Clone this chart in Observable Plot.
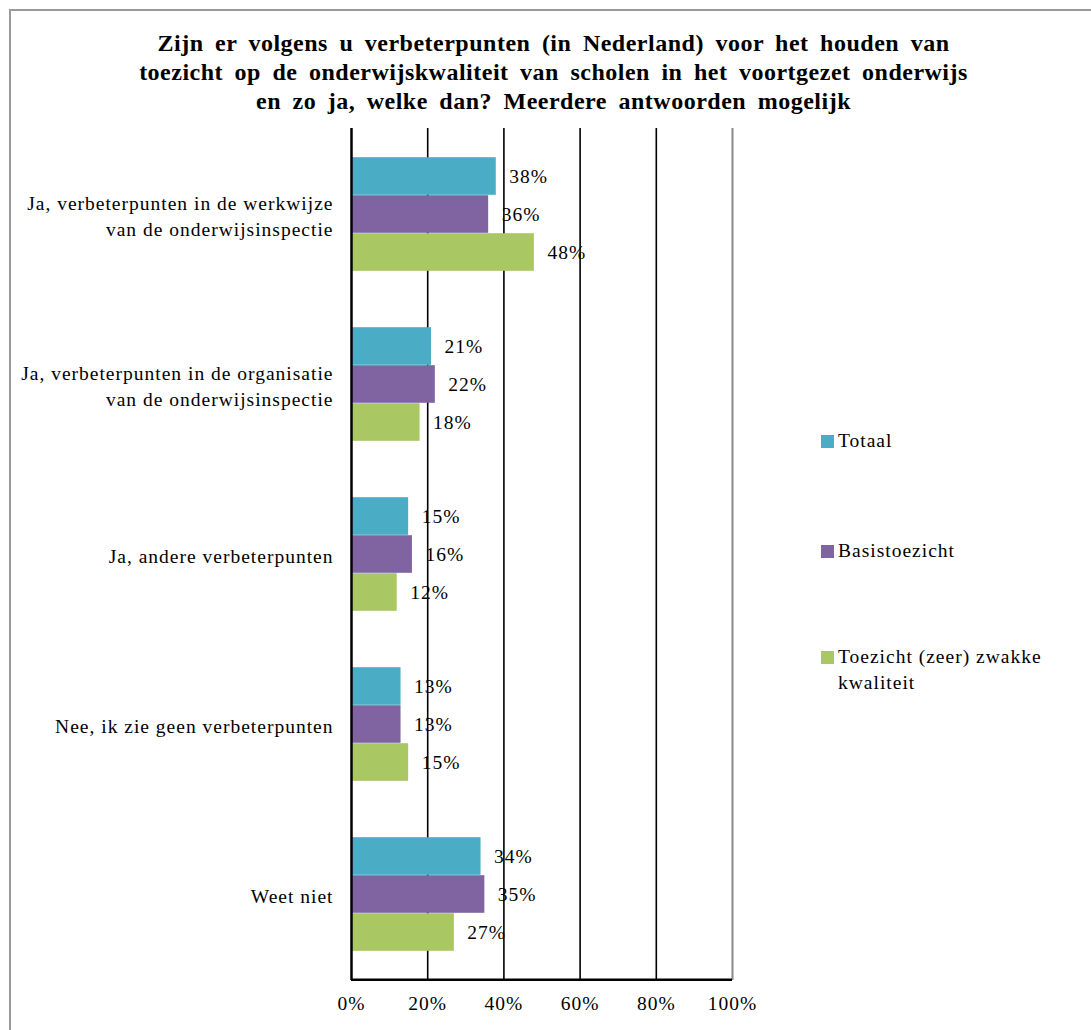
<!DOCTYPE html>
<html>
<head>
<meta charset="utf-8">
<script src="https://cdn.jsdelivr.net/npm/d3@7"></script>
<script src="https://cdn.jsdelivr.net/npm/@observablehq/plot@0.6"></script>
<style>
  html, body { margin: 0; padding: 0; background: #fff; }
  #page { position: relative; width: 1091px; height: 1030px; overflow: hidden; font-family: "Liberation Serif", serif; color: #000; }
  #frame { position: absolute; left: 9px; top: 9px; width: 1200px; height: 1200px; border: 2px solid #9a9a9a; box-sizing: border-box; }
  #title { position: absolute; left: 8px; top: 29px; width: 1091px; text-align: center; font-weight: bold; font-size: 24px; line-height: 29px; letter-spacing: 0.5px; word-spacing: 5px; }
  #chart { position: absolute; left: 0; top: 128px; }
  .leg { position: absolute; left: 821px; font-size: 19.5px; line-height: 26px; letter-spacing: 1px; }
  .leg .sw { position: absolute; left: 0; top: 7px; width: 13px; height: 13px; }
  .leg .tx { position: absolute; left: 17px; top: 0; white-space: nowrap; }
</style>
</head>
<body>
<div id="page">
  <div id="frame"></div>
  <div id="title"></div>
  <div id="chart"></div>
  <div id="legend"></div>
</div>
<script>
const titleLines = [
  "Zijn er volgens u verbeterpunten (in Nederland) voor het houden van",
  "toezicht op de onderwijskwaliteit van scholen in het voortgezet onderwijs",
  "en zo ja, welke dan? Meerdere antwoorden mogelijk"
];
const categories = [
  "Ja, verbeterpunten in de werkwijze van de onderwijsinspectie",
  "Ja, verbeterpunten in de organisatie van de onderwijsinspectie",
  "Ja, andere verbeterpunten",
  "Nee, ik zie geen verbeterpunten",
  "Weet niet"
];
const categoryLabels = [
  "Ja, verbeterpunten in de werkwijze\nvan de onderwijsinspectie",
  "Ja, verbeterpunten in de organisatie\nvan de onderwijsinspectie",
  "Ja, andere verbeterpunten",
  "Nee, ik zie geen verbeterpunten",
  "Weet niet"
];
const seriesNames = ["Totaal", "Basistoezicht", "Toezicht (zeer) zwakke kwaliteit"];
const seriesLegendLabels = ["Totaal", "Basistoezicht", "Toezicht (zeer) zwakke<br>kwaliteit"];
const seriesColors = ["#4bacc6", "#8064a2", "#a9c864"];
const totaal = [38, 21, 15, 13, 34];
const basistoezicht = [36, 22, 16, 13, 35];
const zwakkeKwaliteit = [48, 18, 12, 15, 27];
const xTicks = [0, 20, 40, 60, 80, 100];

document.getElementById("title").innerHTML = titleLines.join("<br>");

const seriesValues = [totaal, basistoezicht, zwakkeKwaliteit];
const rows = [];
seriesNames.forEach((s, si) => categories.forEach((c, ci) => rows.push({category: c, series: s, value: seriesValues[si][ci]})));

const W = 1091, H = 902;
const mL = 351, mR = W - 732, mT = 0, mB = 50;
const band = (H - mT - mB) / categories.length;
const barH = 38;
const pad = (band - 3 * barH) / 2;

const labelOf = new Map(categories.map((c, i) => [c, categoryLabels[i]]));

const marks = [];
marks.push(Plot.ruleX(xTicks.filter(d => d > 0 && d < 100), {stroke: "#000", strokeWidth: 1.6}));
marks.push(Plot.ruleX([100], {stroke: "#8a8a8a", strokeWidth: 2}));
seriesNames.forEach((s, i) => {
  const top = pad + i * barH;
  const bottom = band - top - barH;
  marks.push(Plot.barX(rows.filter(r => r.series === s), {
    x: "value", y: "category", fill: "series", insetTop: top, insetBottom: bottom
  }));
  const dy = top + barH / 2 - band / 2;
  marks.push(Plot.text(rows.filter(r => r.series === s), {
    x: "value", y: "category", text: d => d.value + "%", dx: 13, dy: dy,
    textAnchor: "start", fontSize: 19.5, fill: "#000"
  }));
});
marks.push(Plot.ruleX([0], {stroke: "#000", strokeWidth: 2.5}));
marks.push(Plot.ruleY([categories[categories.length - 1]], {dy: band / 2, stroke: "#000", strokeWidth: 2.5}));
marks.push(Plot.axisX(xTicks, {tickSize: 0, tickPadding: 16, fontSize: 19.5, tickFormat: d => d + "%", label: null}));
marks.push(Plot.axisY({tickSize: 0, tickPadding: 18, fontSize: 19.5, lineHeight: 1.36, tickFormat: d => labelOf.get(d), label: null}));

const chart = Plot.plot({
  width: W, height: H,
  marginLeft: mL, marginRight: mR, marginTop: mT, marginBottom: mB,
  style: {fontFamily: "'Liberation Serif', serif", fontSize: "19.5px", letterSpacing: "1px", color: "#000", background: "transparent", overflow: "visible"},
  x: {domain: [0, 100]},
  y: {domain: categories, padding: 0},
  color: {domain: seriesNames, range: seriesColors},
  marks
});
document.getElementById("chart").appendChild(chart);

const legendTops = [428, 538, 644];
const legend = document.getElementById("legend");
seriesNames.forEach((s, i) => {
  const d = document.createElement("div");
  d.className = "leg";
  d.style.top = legendTops[i] + "px";
  d.innerHTML = `<div class="sw" style="background:${seriesColors[i]}"></div><div class="tx">${seriesLegendLabels[i]}</div>`;
  legend.appendChild(d);
});
</script>
</body>
</html>
